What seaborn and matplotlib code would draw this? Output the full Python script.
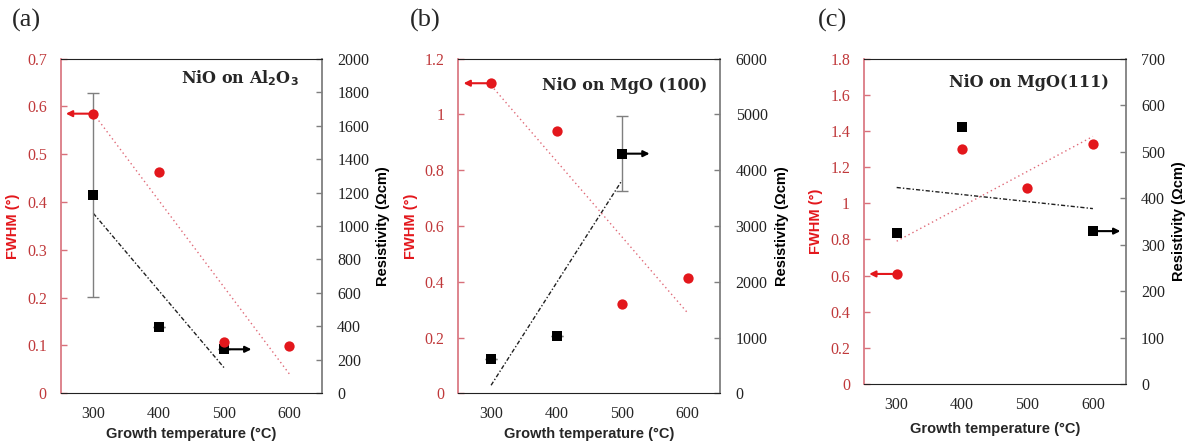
import numpy as np
import pandas as pd
import matplotlib
matplotlib.use("Agg")
import matplotlib.pyplot as plt
import seaborn as sns

sns.set_style("white")

# ---- data -------------------------------------------------------------
temp_fwhm = [300, 400, 500, 600]

fwhm_a = [0.585, 0.462, 0.107, 0.098]
res_temp_a = [300, 400, 500]
res_a = [1185, 396, 263]
res_err_a = [610, 0, 0]

fwhm_b = [1.112, 0.942, 0.319, 0.413]
res_temp_b = [300, 400, 500]
res_b = [621, 1028, 4297]
res_err_b = [0, 0, 670]

fwhm_c = [0.609, 1.302, 1.083, 1.326]
res_temp_c = [300, 400, 600]
res_c = [326, 553, 329]

panel_tags = ["(a)", "(b)", "(c)"]
titles = [r"NiO on Al$_\mathbf{2}$O$_\mathbf{3}$", "NiO on MgO (100)", "NiO on MgO(111)"]
title_pos = [(0.912, 0.942), (0.95, 0.921), (0.936, 0.928)]
fwhm_lims = [(0, 0.7, 0.1), (0, 1.2, 0.2), (0, 1.8, 0.2)]
res_lims = [(0, 2000, 200), (0, 6000, 1000), (0, 700, 100)]

RED = "#e3171c"
RED_TXT = "#c0393b"
RED_SPINE = "#d8707a"
GRAY = "#7f7f7f"
TICK_FONT = "Liberation Serif"

fig = plt.figure(figsize=(11.92, 4.44), dpi=100)

boxes = [
    [0.0509, 0.1142, 0.2192, 0.7536],
    [0.3845, 0.1142, 0.2198, 0.7536],
    [0.7248, 0.1351, 0.2195, 0.7327],
]
tag_x = [0.010, 0.344, 0.686]
xlabel_pad = [4, 4, 7]

panels = [
    (fwhm_a, res_temp_a, res_a, res_err_a),
    (fwhm_b, res_temp_b, res_b, res_err_b),
    (fwhm_c, res_temp_c, res_c, None),
]

# arrows mark which axis each series is read on
arrow_left_idx = [0, 0, 0]
arrow_right_idx = [2, 2, 2]


def fmt_left(v, pos):
    if abs(v) < 1e-9:
        return "0"
    if abs(v - round(v)) < 1e-9:
        return f"{int(round(v))}"
    return f"{v:.1f}"


for i, (box, (fw, rt, rv, re)) in enumerate(zip(boxes, panels)):
    ax = fig.add_axes(box)
    ax2 = ax.twinx()

    df_f = pd.DataFrame({"T": temp_fwhm, "FWHM": fw})
    df_r = pd.DataFrame({"T": rt, "R": rv})

    # FWHM on the left axis
    sns.regplot(data=df_f, x="T", y="FWHM", ax=ax, scatter=False, ci=None,
                truncate=True,
                line_kws=dict(color="#e06a78", lw=1.0, ls=(0, (1, 2.2))))
    sns.scatterplot(data=df_f, x="T", y="FWHM", ax=ax, color=RED, s=55,
                    marker="o", edgecolor=RED, linewidth=0, zorder=5)

    # resistivity on the right axis
    if re is not None:
        ax2.errorbar(rt, rv, yerr=re, fmt="none", ecolor=GRAY, elinewidth=1.0,
                     capsize=4, capthick=1.0, zorder=3)
    sns.regplot(data=df_r, x="T", y="R", ax=ax2, scatter=False, ci=None,
                truncate=True,
                line_kws=dict(color="#202020", lw=1.0, ls=(0, (3, 1.5, 1, 1.5))))
    sns.scatterplot(data=df_r, x="T", y="R", ax=ax2, color="black", s=55,
                    marker="s", edgecolor="black", linewidth=0, zorder=5)

    # axis ranges
    ax.set_xlim(250, 650)
    lo, hi, st = fwhm_lims[i]
    ax.set_ylim(lo, hi)
    ax.set_yticks(np.arange(lo, hi + st / 2, st))
    rlo, rhi, rst = res_lims[i]
    ax2.set_ylim(rlo, rhi)
    ax2.set_yticks(np.arange(rlo, rhi + rst / 2, rst))
    ax.set_xticks([300, 400, 500, 600])
    ax.set_xticks([350, 450, 550], minor=True)

    ax.yaxis.set_major_formatter(matplotlib.ticker.FuncFormatter(fmt_left))

    ax.tick_params(axis="y", direction="in", length=4, width=1, color=RED_SPINE,
                   labelcolor=RED_TXT, labelsize=11.5, pad=10)
    ax.tick_params(axis="x", which="both", direction="in", length=4, width=1,
                   color="#333333", labelsize=11.5, pad=9)
    ax2.tick_params(axis="y", direction="in", length=4, width=1, color=GRAY,
                    labelcolor="#222222", labelsize=11.5, pad=11)
    for lab in ax.get_yticklabels() + ax.get_xticklabels() + ax2.get_yticklabels():
        lab.set_fontfamily(TICK_FONT)

    # spines
    for s in ["top", "bottom", "left", "right"]:
        ax.spines[s].set_visible(True)
        ax2.spines[s].set_visible(False)
    ax.spines["left"].set_color(RED_SPINE)
    ax.spines["top"].set_color("#222222")
    ax.spines["bottom"].set_color("#222222")
    ax.spines["right"].set_visible(False)
    ax2.spines["right"].set_visible(True)
    ax2.spines["right"].set_color(GRAY)
    ax2.spines["right"].set_linewidth(1.3)
    ax.spines["left"].set_linewidth(1.2)

    # labels
    ax.set_xlabel("Growth temperature (°C)", fontfamily="Liberation Sans",
                  fontweight="bold", fontsize=10.5, labelpad=xlabel_pad[i])
    ax.set_ylabel("FWHM (°)", fontfamily="Liberation Sans", fontweight="bold",
                  fontsize=10.5, color=RED, labelpad=5)
    ax2.set_ylabel("Resistivity (Ωcm)", fontfamily="Liberation Sans",
                   fontweight="bold", fontsize=10.5, color="black", labelpad=5)

    tx, ty = title_pos[i]
    ax.text(tx, ty, titles[i], transform=ax.transAxes, ha="right", va="center",
            fontfamily="DejaVu Serif", fontweight="bold", fontsize=11.5,
            zorder=10)

    li = arrow_left_idx[i]
    ax.annotate("", xy=(temp_fwhm[li] - 42, fw[li]), xytext=(temp_fwhm[li] - 6, fw[li]),
                arrowprops=dict(arrowstyle="-|>", color=RED, lw=1.5,
                                mutation_scale=9, shrinkA=0, shrinkB=0))
    ri = arrow_right_idx[i]
    ax2.annotate("", xy=(rt[ri] + 42, rv[ri]), xytext=(rt[ri] + 6, rv[ri]),
                 arrowprops=dict(arrowstyle="-|>", color="black", lw=1.5,
                                 mutation_scale=9, shrinkA=0, shrinkB=0))

    ax.set_zorder(ax2.get_zorder() + 1)
    ax.patch.set_visible(False)

    fig.text(tag_x[i], 0.955, panel_tags[i], fontfamily="Liberation Serif",
             fontsize=19, ha="left", va="center")

fig.savefig("out.png", dpi=100)
